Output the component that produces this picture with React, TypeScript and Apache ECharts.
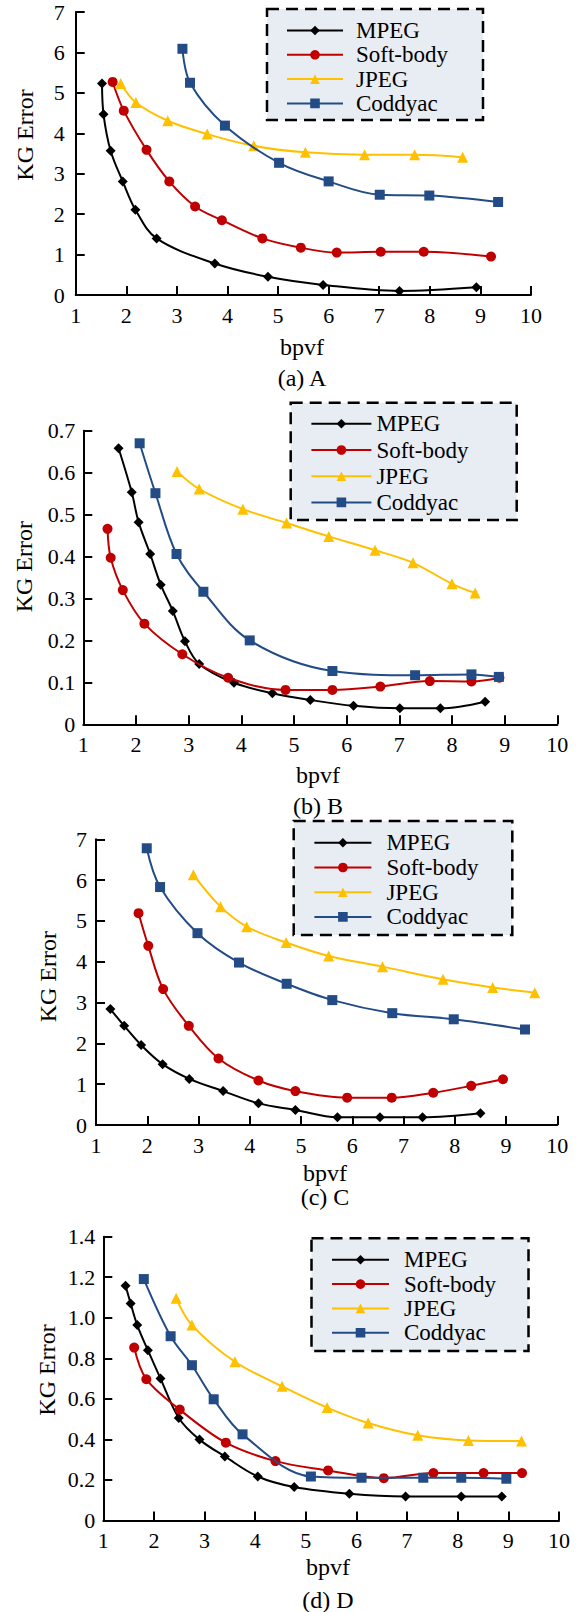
import React, { useEffect, useRef } from "react";
import * as echarts from "echarts";

const FONT = "Liberation Serif, Times New Roman, Times, serif";

// ---------- shared ----------
const SERIES_NAMES = ["MPEG", "Soft-body", "JPEG", "Coddyac"];
const SERIES_COLORS = ["#000000", "#C00000", "#FFC000", "#234B85"];
const SERIES_SYMBOLS = ["diamond", "circle", "triangle", "rect"];
const SYMBOL_SIZES = [10, 10, 11, 10];
const PANEL_TITLES = ["(a) A", "(b) B", "(c) C", "(d) D"];
const X_NAME = "bpvf";
const Y_NAME = "KG Error";
const X_MIN = 1;
const X_MAX = 10;
const X_INTERVAL = 1;
const Y_MAX = [7, 0.7, 7, 1.4];
const Y_INTERVAL = [1, 0.1, 1, 0.2];

// ---------- panel A ----------
const A_MPEG_X = [1.52, 1.55, 1.69, 1.93, 2.18, 2.6, 3.75, 4.8, 5.89, 7.4, 8.92];
const A_MPEG_Y = [5.23, 4.47, 3.57, 2.81, 2.11, 1.4, 0.78, 0.45, 0.25, 0.1, 0.19];
const A_SOFT_X = [1.73, 1.95, 2.4, 2.85, 3.36, 3.89, 4.69, 5.45, 6.16, 7.03, 7.88, 9.21];
const A_SOFT_Y = [5.27, 4.56, 3.59, 2.81, 2.19, 1.85, 1.4, 1.17, 1.05, 1.07, 1.07, 0.95];
const A_JPEG_X = [1.89, 2.19, 2.82, 3.6, 4.52, 5.54, 6.71, 7.7, 8.65];
const A_JPEG_Y = [5.23, 4.76, 4.31, 3.98, 3.69, 3.53, 3.47, 3.47, 3.41];
const A_CODD_X = [3.11, 3.26, 3.95, 5.02, 6.0, 7.01, 7.99, 9.35];
const A_CODD_Y = [6.09, 5.25, 4.19, 3.27, 2.81, 2.48, 2.46, 2.3];

// ---------- panel B ----------
const B_MPEG_X = [1.67, 1.92, 2.05, 2.27, 2.47, 2.7, 2.93, 3.2, 3.86, 4.59, 5.31, 6.13, 7.01, 7.78, 8.63];
const B_MPEG_Y = [0.658, 0.553, 0.482, 0.406, 0.333, 0.27, 0.198, 0.144, 0.099, 0.074, 0.058, 0.044, 0.038, 0.038, 0.054];
const B_SOFT_X = [1.46, 1.52, 1.75, 2.16, 2.88, 3.75, 4.84, 5.73, 6.64, 7.58, 8.37, 8.9];
const B_SOFT_Y = [0.466, 0.397, 0.32, 0.24, 0.167, 0.111, 0.082, 0.082, 0.09, 0.103, 0.102, 0.111];
const B_JPEG_X = [2.78, 3.2, 4.03, 4.86, 5.66, 6.54, 7.26, 8.0, 8.44];
const B_JPEG_Y = [0.603, 0.561, 0.513, 0.48, 0.448, 0.415, 0.385, 0.335, 0.313];
const B_CODD_X = [2.07, 2.37, 2.77, 3.28, 4.16, 5.73, 7.3, 8.37, 8.89];
const B_CODD_Y = [0.67, 0.551, 0.406, 0.316, 0.2, 0.127, 0.117, 0.119, 0.113];

// ---------- panel C ----------
const C_MPEG_X = [1.28, 1.55, 1.88, 2.3, 2.82, 3.48, 4.17, 4.89, 5.71, 6.54, 7.37, 8.5];
const C_MPEG_Y = [2.84, 2.43, 1.96, 1.49, 1.13, 0.83, 0.53, 0.37, 0.19, 0.19, 0.19, 0.29];
const C_SOFT_X = [1.83, 2.02, 2.31, 2.81, 3.39, 4.17, 4.89, 5.9, 6.77, 7.58, 8.32, 8.94];
const C_SOFT_Y = [5.19, 4.39, 3.33, 2.43, 1.63, 1.09, 0.83, 0.67, 0.67, 0.79, 0.96, 1.12];
const C_JPEG_X = [2.9, 3.43, 3.94, 4.71, 5.54, 6.59, 7.77, 8.74, 9.56];
const C_JPEG_Y = [6.13, 5.35, 4.86, 4.47, 4.14, 3.88, 3.57, 3.37, 3.24];
const C_CODD_X = [1.99, 2.25, 2.98, 3.79, 4.72, 5.61, 6.78, 7.98, 9.37];
const C_CODD_Y = [6.78, 5.83, 4.7, 3.98, 3.46, 3.06, 2.74, 2.59, 2.34];

// ---------- panel D ----------
const D_MPEG_X = [1.44, 1.54, 1.67, 1.88, 2.13, 2.49, 2.9, 3.4, 4.05, 4.77, 5.86, 6.97, 8.07, 8.87];
const D_MPEG_Y = [1.158, 1.071, 0.964, 0.84, 0.7, 0.506, 0.399, 0.316, 0.217, 0.165, 0.132, 0.119, 0.119, 0.119];
const D_SOFT_X = [1.61, 1.85, 2.51, 3.42, 4.4, 5.44, 6.54, 7.52, 8.51, 9.27];
const D_SOFT_Y = [0.853, 0.697, 0.547, 0.384, 0.293, 0.247, 0.209, 0.234, 0.234, 0.234];
const D_JPEG_X = [2.44, 2.75, 3.6, 4.53, 5.42, 6.23, 7.21, 8.21, 9.26];
const D_JPEG_Y = [1.096, 0.964, 0.783, 0.662, 0.557, 0.481, 0.42, 0.395, 0.392];
const D_CODD_X = [1.8, 2.33, 2.75, 3.18, 3.75, 5.1, 6.1, 7.32, 8.07, 8.96];
const D_CODD_Y = [1.191, 0.909, 0.766, 0.598, 0.425, 0.217, 0.211, 0.211, 0.211, 0.206];

const PANEL_DATA = [
  [[A_MPEG_X, A_MPEG_Y], [A_SOFT_X, A_SOFT_Y], [A_JPEG_X, A_JPEG_Y], [A_CODD_X, A_CODD_Y]],
  [[B_MPEG_X, B_MPEG_Y], [B_SOFT_X, B_SOFT_Y], [B_JPEG_X, B_JPEG_Y], [B_CODD_X, B_CODD_Y]],
  [[C_MPEG_X, C_MPEG_Y], [C_SOFT_X, C_SOFT_Y], [C_JPEG_X, C_JPEG_Y], [C_CODD_X, C_CODD_Y]],
  [[D_MPEG_X, D_MPEG_Y], [D_SOFT_X, D_SOFT_Y], [D_JPEG_X, D_JPEG_Y], [D_CODD_X, D_CODD_Y]],
];

// ---------- layout (pixels) ----------
const LAYOUT = [
  {
    grid: { left: 75.7, top: 12, width: 455.3, height: 283 },
    box: { x: 267, y: 9, w: 216, h: 111 },
    legend: { left: 286, top: 19, itemWidth: 56, gap: 1.3, pad: 8 },
    yName: [25, 135], xName: [302, 346.7], title: [302, 378.3], labelMargin: 11,
  },
  {
    grid: { left: 83.3, top: 430.7, width: 474, height: 293.6 },
    box: { x: 290.7, y: 402.7, w: 226, h: 117.3 },
    legend: { left: 310.4, top: 412.3, itemWidth: 60, gap: 3.2, pad: 0 },
    yName: [24, 566.7], xName: [318, 775], title: [318, 806], labelMargin: 8,
  },
  {
    grid: { left: 96, top: 839.3, width: 461.3, height: 285.7 },
    box: { x: 293.7, y: 821, w: 218.6, h: 114 },
    legend: { left: 313.4, top: 831.3, itemWidth: 57, gap: 1.7, pad: 10 },
    yName: [48, 976.7], xName: [325, 1173.3], title: [325, 1197], labelMargin: 9,
  },
  {
    grid: { left: 103.3, top: 1236.7, width: 455.7, height: 283.8 },
    box: { x: 311.5, y: 1238.3, w: 217, h: 112.7 },
    legend: { left: 331, top: 1248.3, itemWidth: 57, gap: 1.3, pad: 10 },
    yName: [46.5, 1370], xName: [328, 1566.7], title: [328, 1600], labelMargin: 8,
  },
];

function yFormatter(p: number) {
  return (v: number) => {
    if (v === 0) return "0";
    return Y_INTERVAL[p] < 1 ? v.toFixed(1) : String(Math.round(v));
  };
}

function buildOption() {
  const grid: any[] = [];
  const xAxis: any[] = [];
  const yAxis: any[] = [];
  const series: any[] = [];
  const legend: any[] = [];
  const graphic: any[] = [];

  LAYOUT.forEach((L, p) => {
    grid.push({ ...L.grid, containLabel: false, outerBoundsMode: "none" });
    const axisCommon = {
      axisLine: { show: true, onZero: false, lineStyle: { color: "#000", width: 2 } },
      axisTick: { show: true, inside: true, length: 9, lineStyle: { color: "#000", width: 2 } },
      splitLine: { show: false },
    };
    xAxis.push({
      type: "value",
      gridIndex: p,
      min: X_MIN,
      max: X_MAX,
      interval: X_INTERVAL,
      ...axisCommon,
      axisLabel: { fontFamily: FONT, fontSize: 22, color: "#000", margin: 9 },
    });
    yAxis.push({
      type: "value",
      gridIndex: p,
      min: 0,
      max: Y_MAX[p],
      interval: Y_INTERVAL[p],
      ...axisCommon,
      axisLabel: {
        fontFamily: FONT,
        fontSize: 22,
        color: "#000",
        margin: L.labelMargin,
        formatter: yFormatter(p),
      },
    });
    PANEL_DATA[p].forEach(([xs, ys], s) => {
      series.push({
        type: "line",
        name: SERIES_NAMES[s],
        xAxisIndex: p,
        yAxisIndex: p,
        data: xs.map((x, i) => [x, ys[i]]),
        smooth: 0.35,
        symbol: SERIES_SYMBOLS[s],
        symbolSize: SYMBOL_SIZES[s],
        showSymbol: true,
        lineStyle: { color: SERIES_COLORS[s], width: 2 },
        itemStyle: { color: SERIES_COLORS[s] },
        z: 3 + s,
      });
    });
    legend.push({
      data: SERIES_NAMES,
      orient: "vertical",
      left: L.legend.left,
      top: L.legend.top,
      itemWidth: L.legend.itemWidth,
      itemHeight: 12,
      itemGap: L.legend.gap,
      padding: 0,
      selectedMode: false,
      z: 20,
      textStyle: {
        fontFamily: FONT,
        fontSize: 23,
        color: "#000",
        lineHeight: 22,
        padding: [0, 0, 0, L.legend.pad],
      },
    });
    graphic.push({
      type: "rect",
      z: 15,
      shape: { x: L.box.x, y: L.box.y, width: L.box.w, height: L.box.h },
      style: { fill: "#E8ECF3", stroke: "#000", lineWidth: 2.5, lineDash: [12, 7] },
    });
    const textStyle = (text: string) => ({
      text,
      fontFamily: FONT,
      fontSize: 24,
      fill: "#000",
      align: "center",
      verticalAlign: "middle",
      textAlign: "center",
      textVerticalAlign: "middle",
    });
    graphic.push({
      type: "text",
      x: L.yName[0],
      y: L.yName[1],
      rotation: Math.PI / 2,
      z: 30,
      style: textStyle(Y_NAME),
    });
    graphic.push({
      type: "text",
      x: L.xName[0],
      y: L.xName[1],
      z: 30,
      style: textStyle(X_NAME),
    });
    graphic.push({
      type: "text",
      x: L.title[0],
      y: L.title[1],
      z: 30,
      style: textStyle(PANEL_TITLES[p]),
    });
  });

  return {
    animation: false,
    backgroundColor: "#ffffff",
    textStyle: { fontFamily: FONT },
    grid,
    xAxis,
    yAxis,
    series,
    legend,
    graphic: { elements: graphic },
  };
}

export default function App() {
  const ref = useRef<HTMLDivElement>(null);
  useEffect(() => {
    document.body.style.margin = "0";
    if (!ref.current) return;
    const chart = echarts.init(ref.current, undefined, { renderer: "svg" });
    chart.setOption(buildOption() as any);
    return () => chart.dispose();
  }, []);
  return <div ref={ref} style={{ width: 583, height: 1612 }} />;
}
